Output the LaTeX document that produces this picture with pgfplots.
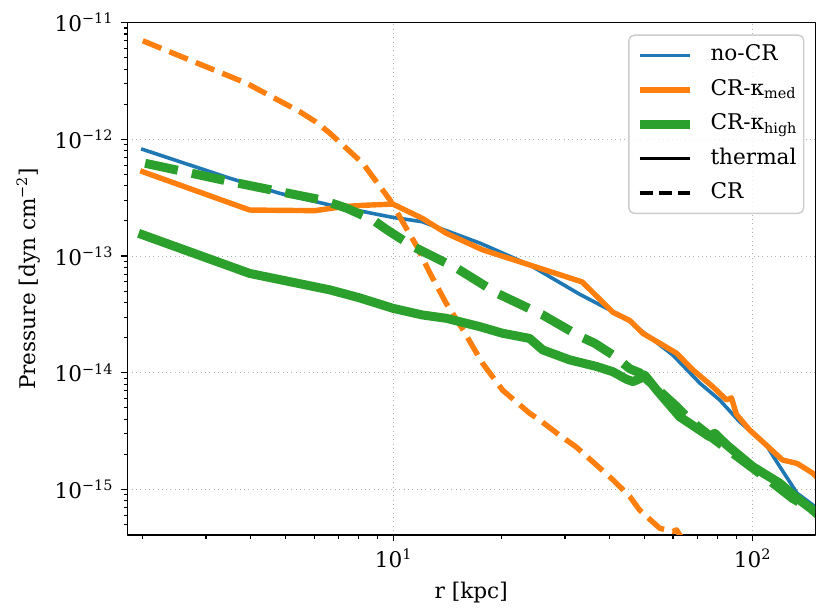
\documentclass[12pt,border=0pt]{standalone}
\usepackage{fontspec}
\setmainfont{DejaVu Serif}
\usepackage{pgfplots}
\pgfplotsset{compat=1.18}
\definecolor{tabblue}{HTML}{1F77B4}
\definecolor{taborange}{HTML}{FF7F0E}
\definecolor{tabgreen}{HTML}{2CA02C}
\begin{document}
\begin{tikzpicture}
\begin{axis}[
  xmode=log, ymode=log,
  scale only axis, width=382.2pt, height=284.6pt,
  xmin=1.81, xmax=149.4, ymin=4.07e-16, ymax=1e-11,
  axis line style={line width=0.8pt},
  xtick={10,100}, xticklabels={10\textsuperscript{1},10\textsuperscript{2}},
  ytick={1e-15,1e-14,1e-13,1e-12,1e-11},
  yticklabels={10\textsuperscript{−15},10\textsuperscript{−14},10\textsuperscript{−13},10\textsuperscript{−12},10\textsuperscript{−11}},
  minor xtick={2,3,4,5,6,7,8,9,20,30,40,50,60,70,80,90},
  minor ytick={5e-16,6e-16,7e-16,8e-16,9e-16,
    2e-15,3e-15,4e-15,5e-15,6e-15,7e-15,8e-15,9e-15,
    2e-14,3e-14,4e-14,5e-14,6e-14,7e-14,8e-14,9e-14,
    2e-13,3e-13,4e-13,5e-13,6e-13,7e-13,8e-13,9e-13,
    2e-12,3e-12,4e-12,5e-12,6e-12,7e-12,8e-12,9e-12},
  tick align=outside, tick pos=left,
  major tick length=3.5pt, minor tick length=2pt,
  tick style={black, line width=0.8pt}, minor tick style={line width=0.6pt},
  xmajorgrids, ymajorgrids,
  major grid style={black!30, dotted, line width=0.6pt},
  xlabel={r [kpc]}, ylabel={Pressure [dyn cm\textsuperscript{−2}]},
  line join=round,
  legend cell align=left,
  legend image code/.code={\draw[#1, line cap=butt] (0pt,0pt) -- (28pt,0pt);},
  legend style={at={(1,1)}, anchor=north east, xshift=-6pt, yshift=-6.5pt,
    draw=black!20, line width=0.8pt, rounded corners=3pt,
    fill=white, fill opacity=0.8, text opacity=1,
    inner xsep=3.5pt, inner ysep=5.3pt, row sep=7.1pt,
    nodes={inner sep=0pt, text height=9pt, text depth=3pt},
    /tikz/every odd column/.append style={column sep=8.9pt}},
]
\addplot[tabblue, line width=2pt, line cap=rect] coordinates {
(2.0,8.2e-13) (2.70,6.04e-13) (3.49,4.65e-13) (4.81,3.45e-13) (6.64,2.74e-13) (9.9,2.15e-13) (12.0,1.97e-13) (17.4,1.29e-13) (23.9,8.4e-14) (33.0,4.7e-14) (40.8,3.34e-14) (45.5,2.74e-14) (50.7,2.11e-14) (59.9,1.42e-14) (71.3,8.13e-15) (80.9,5.85e-15) (91.9,3.81e-15) (109,2.41e-15) (119,1.57e-15) (133,9.27e-16) (147,7.37e-16) (150,7.0e-16)};
\addlegendentry{no-CR}
\addplot[taborange, line width=3pt, line cap=rect] coordinates {
(2.0,5.28e-13) (3.97,2.48e-13) (6.03,2.45e-13) (7.21,2.65e-13) (8.2,2.72e-13) (9.94,2.79e-13) (12.0,2.11e-13) (14.0,1.57e-13) (17.7,1.13e-13) (23.9,8.4e-14) (33.5,6.0e-14) (40.8,3.3e-14) (45.5,2.8e-14) (49.4,2.18e-14) (61.4,1.47e-14) (68.1,1.06e-14) (77.4,7.6e-15) (84.6,5.85e-15) (87.3,6.1e-15) (90.1,4.4e-15) (98.0,3.24e-15) (109,2.41e-15) (121,1.79e-15) (133,1.67e-15) (147,1.38e-15) (150,1.3e-15)};
\addlegendentry{CR-κ\textsubscript{med}}
\addplot[taborange, line width=3pt, dash pattern=on 11.1pt off 4.8pt, forget plot] coordinates {
(2.0,7.0e-12) (2.70,4.79e-12) (3.89,3.03e-12) (5.47,1.73e-12) (6.05,1.42e-12) (6.64,1.13e-12) (8.2,6.24e-13) (9.76,3.03e-13) (11.6,1.21e-13) (12.6,7.2e-14) (14.0,3.94e-14) (15.6,2.33e-14) (17.7,1.2e-14) (20.1,7.1e-15) (23.9,4.5e-15) (25.5,3.94e-15) (28.5,3.03e-15) (32.3,2.3e-15) (40.8,1.21e-15) (45.5,8.67e-16) (48.4,6.67e-16) (50.7,5.85e-16) (55.1,4.65e-16) (59.9,4.35e-16) (61.4,4.5e-16) (63.5,3.8e-16)};
\addplot[tabgreen, line width=5pt, line cap=rect] coordinates {
(2.0,1.52e-13) (3.97,7.1e-14) (6.64,5.13e-14) (8.0,4.4e-14) (9.94,3.57e-14) (12.0,3.13e-14) (14.0,2.93e-14) (17.4,2.48e-14) (20.1,2.18e-14) (23.9,1.97e-14) (26.0,1.57e-14) (30.9,1.29e-14) (36.8,1.13e-14) (40.8,1.02e-14) (44.5,8.8e-15) (46.4,8.4e-15) (48.5,8.9e-15) (50,9.57e-15) (54,7.13e-15) (62.6,4.2e-15) (75.9,2.83e-15) (78.4,3.03e-15) (84.6,2.41e-15) (100,1.57e-15) (119,1.13e-15) (133,8.4e-16) (147,6.67e-16) (150,6.3e-16)};
\addlegendentry{CR-κ\textsubscript{high}}
\addplot[tabgreen, line width=5pt, dash pattern=on 18.5pt off 8pt, forget plot] coordinates {
(2.03,6.24e-13) (2.48,5.47e-13) (3.40,4.43e-13) (4.68,3.63e-13) (6.3,3.03e-13) (7.4,2.57e-13) (8.75,2.04e-13) (9.6,1.67e-13) (11.3,1.21e-13) (15.0,7.85e-14) (19.4,4.8e-14) (26.0,3.13e-14) (33.0,2.05e-14) (36.3,1.79e-14) (40.8,1.42e-14) (45.5,1.08e-14) (48.4,1.0e-14) (61.4,5.13e-15) (66.8,3.94e-15) (77.4,2.75e-15) (96.1,1.67e-15) (114,1.13e-15) (129,8.4e-16) (147,6.67e-16) (150,6.4e-16)};
\addlegendimage{black, line width=2pt}
\addlegendentry{thermal}
\addlegendimage{black, line width=2pt, dash pattern=on 7.4pt off 3.2pt}
\addlegendentry{CR}
\end{axis}
\pgfresetboundingbox
\path[use as bounding box] ([shift={(-70.7pt,-45pt)}]current axis.south west) rectangle ([shift={(8.2pt,12.6pt)}]current axis.north east);
\end{tikzpicture}
\end{document}
